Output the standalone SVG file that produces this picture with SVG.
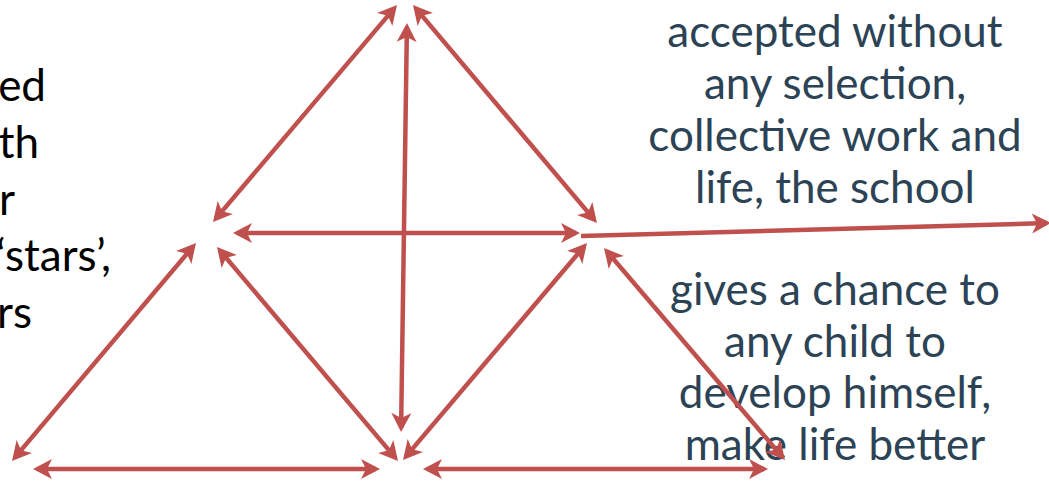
<svg xmlns="http://www.w3.org/2000/svg" width="1049" height="481" viewBox="0 0 1049 481">
<style>
.t{font-family:Lato,"Liberation Sans",sans-serif;font-size:44px}
.l{fill:#000000;text-anchor:end}
.r{fill:#2C4355;text-anchor:middle}
.c{stroke:#C0504D;stroke-width:4.5;fill:none}
</style>
<defs>
<marker id="ah" markerUnits="userSpaceOnUse" viewBox="-22 -11 26 22" markerWidth="26" markerHeight="22" refX="-4" refY="0" orient="auto-start-reverse">
<path d="M0,0 L-19,-10 L-14,0 L-19,10 Z" fill="#C0504D"/>
</marker>
</defs>
<rect width="1049" height="481" fill="#ffffff"/>
<g id="left-text" class="t l">
<text x="46" y="101">ed</text>
<text x="39" y="158">th</text>
<text x="15" y="215">r</text>
<text x="111" y="271">‘stars’,</text>
<text x="32" y="328">rs</text>
</g>
<g id="top-text" class="t r">
<text x="835" y="47">accepted without</text>
<text x="835" y="99">any selection,</text>
<text x="835" y="151">collective work and</text>
<text x="835" y="203">life, the school</text>
</g>
<g id="bottom-text" class="t r">
<text x="835" y="305">gives a chance to</text>
<text x="835" y="357">any child to</text>
<text x="835" y="408">develop himself,</text>
<text x="835" y="460">make life better</text>
</g>
<g id="connectors" class="c">
<line x1="215.6" y1="218.9" x2="394.4" y2="8.1" marker-start="url(#ah)" marker-end="url(#ah)"/>
<line x1="415.6" y1="8.1" x2="594.4" y2="219.9" marker-start="url(#ah)" marker-end="url(#ah)"/>
<line x1="406.9" y1="27" x2="401.1" y2="428" marker-start="url(#ah)" marker-end="url(#ah)"/>
<line x1="237" y1="233" x2="576" y2="233" marker-start="url(#ah)" marker-end="url(#ah)"/>
<line x1="581" y1="236" x2="1047" y2="223.1" marker-end="url(#ah)"/>
<line x1="14.6" y1="457.9" x2="193.4" y2="246.1" marker-start="url(#ah)" marker-end="url(#ah)"/>
<line x1="219.6" y1="250.1" x2="395.4" y2="457.9" marker-start="url(#ah)" marker-end="url(#ah)"/>
<line x1="37" y1="469" x2="376" y2="469" marker-start="url(#ah)" marker-end="url(#ah)"/>
<line x1="405.6" y1="456.9" x2="584.4" y2="246.1" marker-start="url(#ah)" marker-end="url(#ah)"/>
<line x1="606.6" y1="251" x2="782.4" y2="457" marker-start="url(#ah)" marker-end="url(#ah)"/>
<line x1="427" y1="469" x2="764" y2="469" marker-start="url(#ah)" marker-end="url(#ah)"/>
</g>
</svg>
